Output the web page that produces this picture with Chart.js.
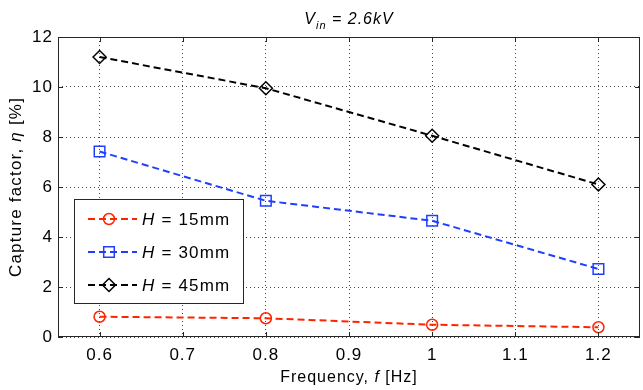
<!DOCTYPE html>
<html>
<head>
<meta charset="utf-8">
<script src="https://cdn.jsdelivr.net/npm/chart.js@4"></script>
<style>
  html, body { margin: 0; padding: 0; background: #fff; overflow: hidden; }
  #wrap { width: 643px; height: 390px; position: relative; }
  canvas { display: block; }
</style>
</head>
<body>
<div id="wrap"><canvas id="chart"></canvas></div>
<script>
// frequency f [Hz]
var freq = [0.6, 0.8, 1.0, 1.2];
// capture factor (%) per electrode height
var h15 = [0.81, 0.75, 0.49, 0.39];
var h30 = [7.42, 5.45, 4.65, 2.72];
var h45 = [11.2, 9.95, 8.05, 6.1];

var xTicks = [0.6, 0.7, 0.8, 0.9, 1, 1.1, 1.2];
var yTicks = [0, 2, 4, 6, 8, 10, 12];
var legendNames = ['15mm', '30mm', '45mm'];

var FONT = 'Liberation Sans, Arial, sans-serif';

function pts(ys) {
    return freq.map(function (f, i) { return { x: f, y: ys[i] }; });
}

// draw a row of text pieces (font switches for italic symbols), centred on cx
function drawPieces(ctx, parts, cx, y) {
    var total = 0;
    parts.forEach(function (p) { ctx.font = p.f; p.w = ctx.measureText(p.t).width; total += p.w; });
    var x0 = cx - total / 2;
    parts.forEach(function (p) { ctx.font = p.f; ctx.fillText(p.t, x0, y + (p.dy || 0)); x0 += p.w; });
}

// wider letter spacing, like the old matlab export
var spacingPlugin = {
    id: 'spacing',
    beforeUpdate: function (chart) { chart.ctx.letterSpacing = '1px'; },
    beforeDraw: function (chart) { chart.ctx.letterSpacing = '1px'; }
};

// frame, inward ticks, title, axis titles and legend, matlab style
var matlabPlugin = {
    id: 'matlab',
    afterDatasetsDraw: function (chart) {
        var ctx = chart.ctx;
        var a = chart.chartArea;
        var xs = chart.scales.x, ys = chart.scales.y;
        ctx.save();
        ctx.strokeStyle = '#262626';
        ctx.lineWidth = 1;
        ctx.setLineDash([]);
        ctx.strokeRect(a.left + 0.5, a.top + 0.5, a.right - a.left - 1, a.bottom - a.top - 1);
        ctx.beginPath();
        xTicks.forEach(function (v) {
            var px = Math.round(xs.getPixelForValue(v)) + 0.5;
            ctx.moveTo(px, a.bottom); ctx.lineTo(px, a.bottom - 5);
            ctx.moveTo(px, a.top); ctx.lineTo(px, a.top + 5);
        });
        yTicks.forEach(function (v) {
            var py = Math.round(ys.getPixelForValue(v)) + 0.5;
            ctx.moveTo(a.left, py); ctx.lineTo(a.left + 5, py);
            ctx.moveTo(a.right, py); ctx.lineTo(a.right - 5, py);
        });
        ctx.stroke();

        // legend box
        var lx = 74, ly = 199, lw = 169, lh = 104;
        ctx.fillStyle = '#fff';
        ctx.fillRect(lx, ly, lw, lh);
        ctx.strokeRect(lx + 0.5, ly + 0.5, lw, lh);
        chart.data.datasets.forEach(function (ds, i) {
            var cy = ly + 20 + i * 33;
            ctx.strokeStyle = ds.borderColor;
            ctx.lineWidth = ds.borderWidth;
            ctx.setLineDash(ds.borderDash);
            ctx.beginPath();
            ctx.moveTo(lx + 14, cy); ctx.lineTo(lx + 63, cy);
            ctx.stroke();
            ctx.setLineDash([]);
            ctx.lineWidth = 1.5;
            ctx.fillStyle = 'rgba(0,0,0,0)';
            Chart.helpers.drawPoint(ctx, {
                pointStyle: ds.pointStyle, radius: ds.pointRadius, rotation: 0, borderWidth: 1.5
            }, lx + 35, cy);
            ctx.fillStyle = '#000';
            ctx.textBaseline = 'middle';
            ctx.textAlign = 'left';
            ctx.letterSpacing = '1.2px';
            ctx.font = 'italic 17px ' + FONT;
            ctx.fillText('H', lx + 68, cy + 1);
            var w = ctx.measureText('H').width;
            ctx.font = '17px ' + FONT;
            ctx.fillText(' = ' + legendNames[i], lx + 68 + w, cy + 1);
        });

        var cx = (a.left + a.right) / 2;
        ctx.fillStyle = '#000';
        ctx.textBaseline = 'alphabetic';
        ctx.textAlign = 'left';

        // title
        ctx.letterSpacing = '1px';
        drawPieces(ctx, [
            { t: 'V', f: 'italic 16px ' + FONT },
            { t: 'in', f: 'italic 11px ' + FONT, dy: 5 },
            { t: ' = 2.6kV', f: 'italic 16px ' + FONT }
        ], cx, 24);

        // x axis title
        drawPieces(ctx, [
            { t: 'Frequency, ', f: '16px ' + FONT },
            { t: 'f', f: 'italic 16px ' + FONT },
            { t: ' [Hz]', f: '16px ' + FONT }
        ], cx, 382);

        // y axis title
        ctx.letterSpacing = '1.2px';
        ctx.translate(21, (a.top + a.bottom) / 2);
        ctx.rotate(-Math.PI / 2);
        drawPieces(ctx, [
            { t: 'Capture factor, ', f: '17px ' + FONT },
            { t: '\u03b7', f: 'italic 17px ' + FONT },
            { t: ' [%]', f: '17px ' + FONT }
        ], 0, 0);
        ctx.restore();
    }
};

new Chart(document.getElementById('chart'), {
    type: 'line',
    data: {
        datasets: [{
            data: pts(h15),
            borderColor: '#ff2400',
            borderWidth: 2,
            borderDash: [7, 4],
            pointStyle: 'circle',
            pointRadius: 5.5,
            pointBorderWidth: 1.5,
            pointBackgroundColor: 'transparent',
            pointBorderColor: '#ff2400'
        }, {
            data: pts(h30),
            borderColor: '#1f3fff',
            borderWidth: 2,
            borderDash: [7, 4],
            pointStyle: 'rect',
            pointRadius: 7.5,
            pointBorderWidth: 1.5,
            pointBackgroundColor: 'transparent',
            pointBorderColor: '#1f3fff'
        }, {
            data: pts(h45),
            borderColor: '#000000',
            borderWidth: 2,
            borderDash: [7, 4],
            pointStyle: 'rectRot',
            pointRadius: 6.5,
            pointBorderWidth: 1.5,
            pointBackgroundColor: 'transparent',
            pointBorderColor: '#000000'
        }]
    },
    options: {
        responsive: true,
        maintainAspectRatio: false,
        animation: false,
        layout: { autoPadding: false, padding: { top: 37, right: 3, left: 0, bottom: 0 } },
        plugins: { legend: { display: false }, tooltip: { enabled: false } },
        scales: {
            x: {
                type: 'linear',
                min: 0.55,
                max: 1.25,
                afterBuildTicks: function (s) { s.ticks = xTicks.map(function (v) { return { value: v }; }); },
                afterFit: function (s) { s.height = 53; s.paddingLeft = 0; s.paddingRight = 0; },
                ticks: {
                    color: '#000',
                    font: { family: FONT, size: 17 },
                    padding: 8,
                    maxRotation: 0,
                    callback: function (v) { return String(v); }
                },
                grid: { color: '#444', lineWidth: 1, drawTicks: false },
                border: { display: false, dash: [1, 3] }
            },
            y: {
                min: 0,
                max: 12,
                afterBuildTicks: function (s) { s.ticks = yTicks.map(function (v) { return { value: v }; }); },
                afterFit: function (s) { s.width = 58; s.paddingTop = 0; s.paddingBottom = 0; },
                ticks: {
                    color: '#000',
                    font: { family: FONT, size: 17 },
                    padding: 5
                },
                grid: { color: '#444', lineWidth: 1, drawTicks: false },
                border: { display: false, dash: [1, 3] }
            }
        }
    },
    plugins: [spacingPlugin, matlabPlugin]
});
</script>
</body>
</html>
